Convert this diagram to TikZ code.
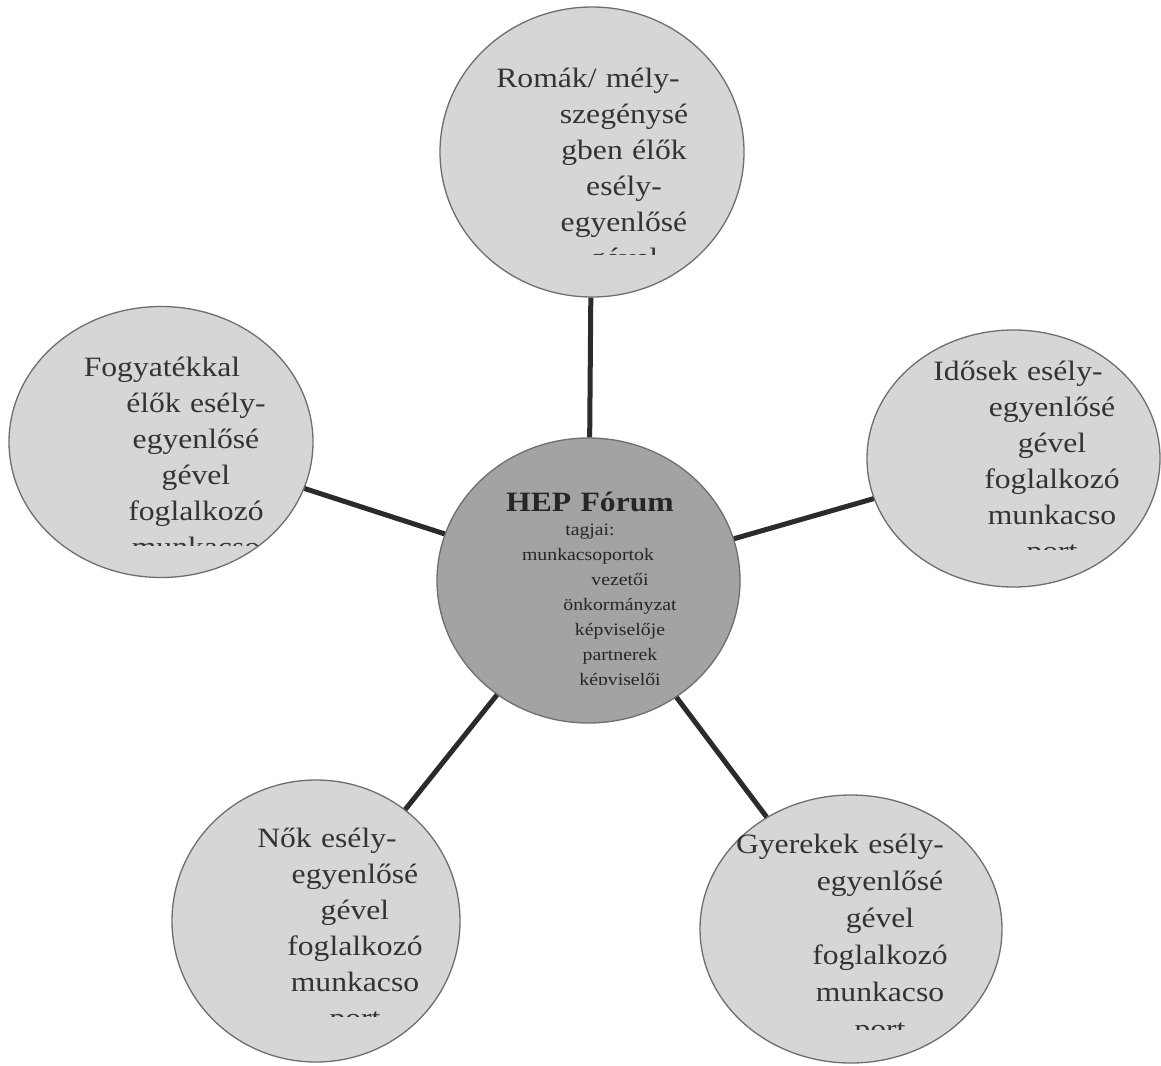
\documentclass[tikz,border=0pt]{standalone}
\usepackage{fontspec}
\newfontfamily\serifw[FakeStretch=1.13]{Liberation Serif}
\usetikzlibrary{shapes.geometric}
\definecolor{outerfill}{HTML}{D6D6D6}
\definecolor{centerfill}{HTML}{A3A3A3}
\definecolor{rimcol}{HTML}{6E6E6E}
\definecolor{linkcol}{HTML}{2B2B2B}
\definecolor{txtcol}{HTML}{333333}
\begin{document}
\begin{tikzpicture}[x=1pt,y=-1pt,
  bubble/.style={ellipse, draw=rimcol, line width=1.3pt, fill=outerfill, inner sep=0pt},
  hub/.style={bubble, fill=centerfill},
  spoke/.style={draw=linkcol, line width=5pt},
  bubtext/.style={text width=320pt, align=center, anchor=base, inner sep=0pt, text=txtcol,
     font=\serifw\fontsize{28}{36}\selectfont},
  smalltext/.style={bubtext, text=black!85, font=\serifw\fontsize{17.5}{25}\selectfont},
  titletext/.style={bubtext, text=black!85, font=\serifw\bfseries\fontsize{28}{30}\selectfont}]
\useasboundingbox[fill=white] (0,0) rectangle (1161,1065);

% circles
\node[bubble, minimum width=304pt, minimum height=290pt] (roma) at (592,152) {};
\node[bubble, minimum width=304pt, minimum height=271pt] (fogy) at (161,442) {};
\node[bubble, minimum width=293pt, minimum height=257pt] (idos) at (1013.5,458.5) {};
\node[bubble, minimum width=288pt, minimum height=282pt] (nok) at (316,921) {};
\node[bubble, minimum width=302pt, minimum height=268pt] (gyer) at (851,929) {};
\node[hub, minimum width=303pt, minimum height=285pt] (hep) at (588.5,580.5) {};

% connectors
\draw[spoke] (hep) -- (roma);
\draw[spoke] (hep) -- (fogy);
\draw[spoke] (hep) -- (idos);
\draw[spoke] (hep) -- (nok);
\draw[spoke] (hep) -- (gyer);

% texts (last lines cut off as in the picture)
\begin{scope}
\clip (0,0) rectangle (1161,254);
\node[bubtext] (romat) at (624,87) {\hspace*{-72pt}Romák/ mély-\\szegénysé\\gben élők\\esély-\\egyenlősé\\gével};
\end{scope}
\begin{scope}
\clip (0,300) rectangle (400,545);
\node[bubtext] (fogyt) at (196,376) {\hspace*{-68pt}Fogyatékkal\\élők esély-\\egyenlősé\\gével\\foglalkozó\\munkacso};
\end{scope}
\begin{scope}
\clip (860,320) rectangle (1161,549);
\node[bubtext] (idost) at (1052,380) {\hspace*{-68pt}Idősek esély-\\egyenlősé\\gével\\foglalkozó\\munkacso\\port};
\end{scope}
\begin{scope}
\clip (160,780) rectangle (470,1016);
\node[bubtext] (nokt) at (355,847) {\hspace*{-56pt}Nők esély-\\egyenlősé\\gével\\foglalkozó\\munkacso\\port};
\end{scope}
\begin{scope}
\clip (690,790) rectangle (1010,1029);
\node[bubtext, font=\serifw\fontsize{28}{37}\selectfont] (gyert) at (880,853) {\hspace*{-80pt}Gyerekek esély-\\egyenlősé\\gével\\foglalkozó\\munkacso\\port};
\end{scope}

\node[titletext] (hept) at (590,511) {HEP Fórum};
\begin{scope}
\clip (440,515) rectangle (740,684);
\node[smalltext] (hepl) at (620,535) {\hspace*{-60pt}tagjai:\\\hspace*{-64pt}munkacsoportok\\vezetői\\önkormányzat\\képviselője\\partnerek\\képviselői};
\end{scope}
\end{tikzpicture}
\end{document}
